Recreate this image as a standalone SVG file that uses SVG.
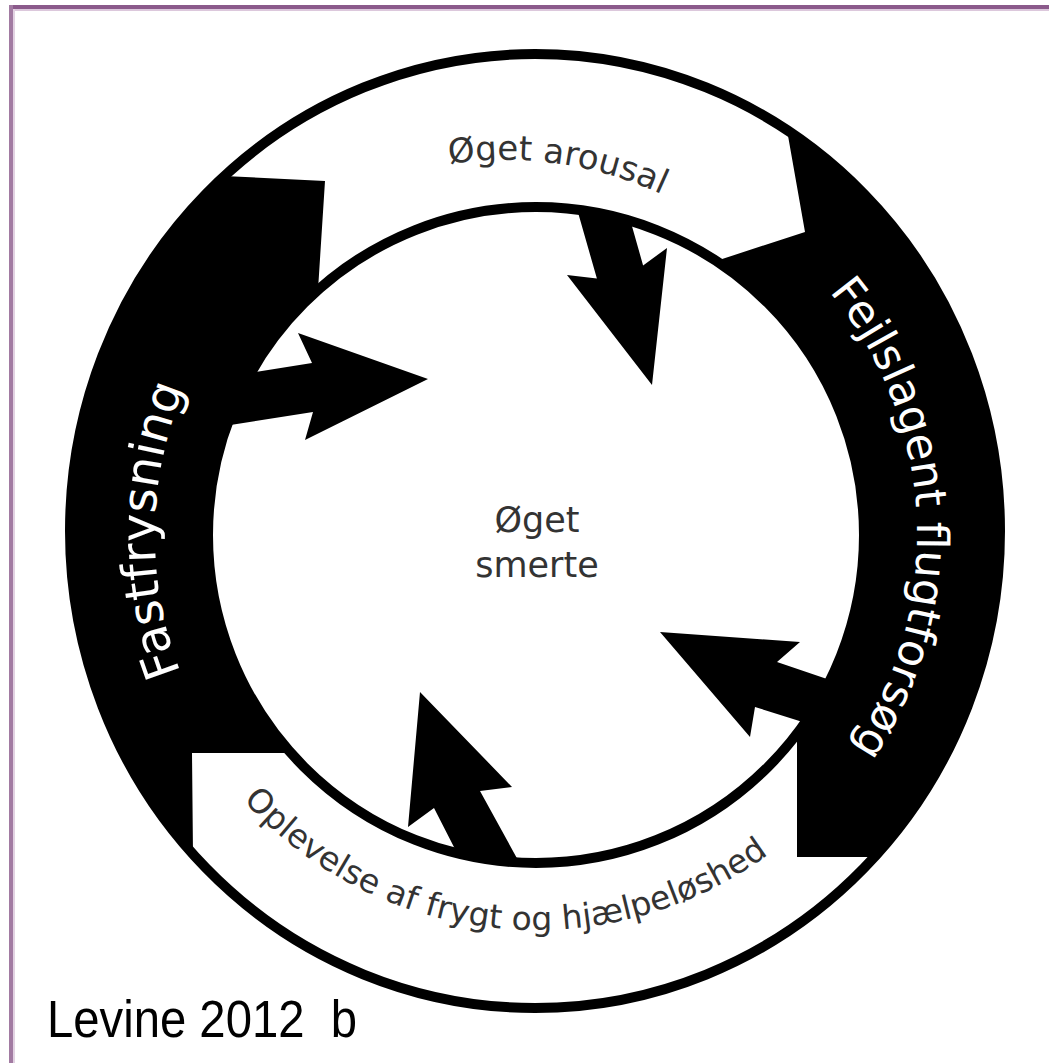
<svg xmlns="http://www.w3.org/2000/svg" width="1049" height="1063" viewBox="0 0 1049 1063">
<defs>
<style>
.lbl{font-family:"DejaVu Sans",Verdana,sans-serif;fill:#333333;}
.wlbl{font-family:"DejaVu Sans",Verdana,sans-serif;fill:#ffffff;}
.band{fill:#000000;}
.arrow{fill:#000000;}
</style>
<path id="topArc" d="M 152.6 406.7 A 375 375 0 0 1 857.4 406.7"/>
<path id="botArc" d="M 164.8 670.1 A 395 395 0 0 0 907.2 670.1"/>
<path id="leftArc" d="M 345.5 865 A 381 381 0 0 1 345.5 205"/>
<path id="rightArc" d="M 726.5 205 A 381 381 0 0 1 726.5 865"/>
</defs>
<rect x="0" y="0" width="1049" height="1063" fill="#ffffff"/>
<g id="frame">
<rect x="9" y="5" width="1040" height="4" fill="#8b5a8b"/>
<rect x="13" y="9" width="1036" height="2" fill="#dcc8dc"/>
<rect x="9" y="5" width="4" height="1058" fill="#a27ba2"/>
<rect x="13" y="9" width="2" height="1054" fill="#e2d2e2"/>
</g>
<g id="outer-ring">
<ellipse cx="535" cy="531" rx="465" ry="477" fill="#ffffff" stroke="#000000" stroke-width="10"/>
</g>
<g id="node-fastfrysning">
<path class="band" d="M 224 176 L 325 181 L 318 290 A 328 328 0 0 0 291 753 L 192 753 L 193 854 A 465 477 0 0 1 224 176 Z"/>
</g>
<g id="node-fejlslagent">
<path class="band" d="M 787 130 L 805 232 L 716 261 A 328 328 0 0 1 797 734 L 797 857 L 874 857 A 465 477 0 0 0 787 130 Z"/>
</g>
<g id="inner-ring">
<circle cx="536" cy="535" r="328" fill="none" stroke="#000000" stroke-width="10"/>
</g>
<g id="connectors">
<polygon class="arrow" points="577.6,211 596.9,278.6 567,275 652,385 667,248 643.1,265.4 630.8,222.1"/>
<polygon class="arrow" points="200,381 312,363 298,333 428,379 305,440 313,412 205,429"/>
<polygon class="arrow" points="880,697 777,662 800,642 660,632 750,737 755,707 860,740"/>
<polygon class="arrow" points="457,853 434,808 408,827 420,692 512,787 480,791 519,862"/>
</g>
<g id="labels">
<text class="wlbl" font-size="48" text-anchor="middle"><textPath href="#leftArc" startOffset="404">Fastfrysning</textPath></text>
<text class="wlbl" font-size="44" text-anchor="middle"><textPath href="#rightArc" startOffset="380">Fejlslagent flugtforsøg</textPath></text>
<text class="lbl" font-size="34" text-anchor="middle"><textPath href="#topArc" startOffset="511">Øget arousal</textPath></text>
<text class="lbl" font-size="33" text-anchor="middle"><textPath href="#botArc" startOffset="442">Oplevelse af frygt og hjælpeløshed</textPath></text>
</g>
<g id="node-oget-smerte">
<text class="lbl" font-size="35" text-anchor="middle" x="537" y="532">Øget</text>
<text class="lbl" font-size="35" text-anchor="middle" x="537" y="577">smerte</text>
</g>
<text x="47" y="1037" font-family="'Liberation Sans',Arial,sans-serif" font-size="51" textLength="310" lengthAdjust="spacingAndGlyphs" fill="#000000">Levine 2012&#160; b</text>
</svg>
